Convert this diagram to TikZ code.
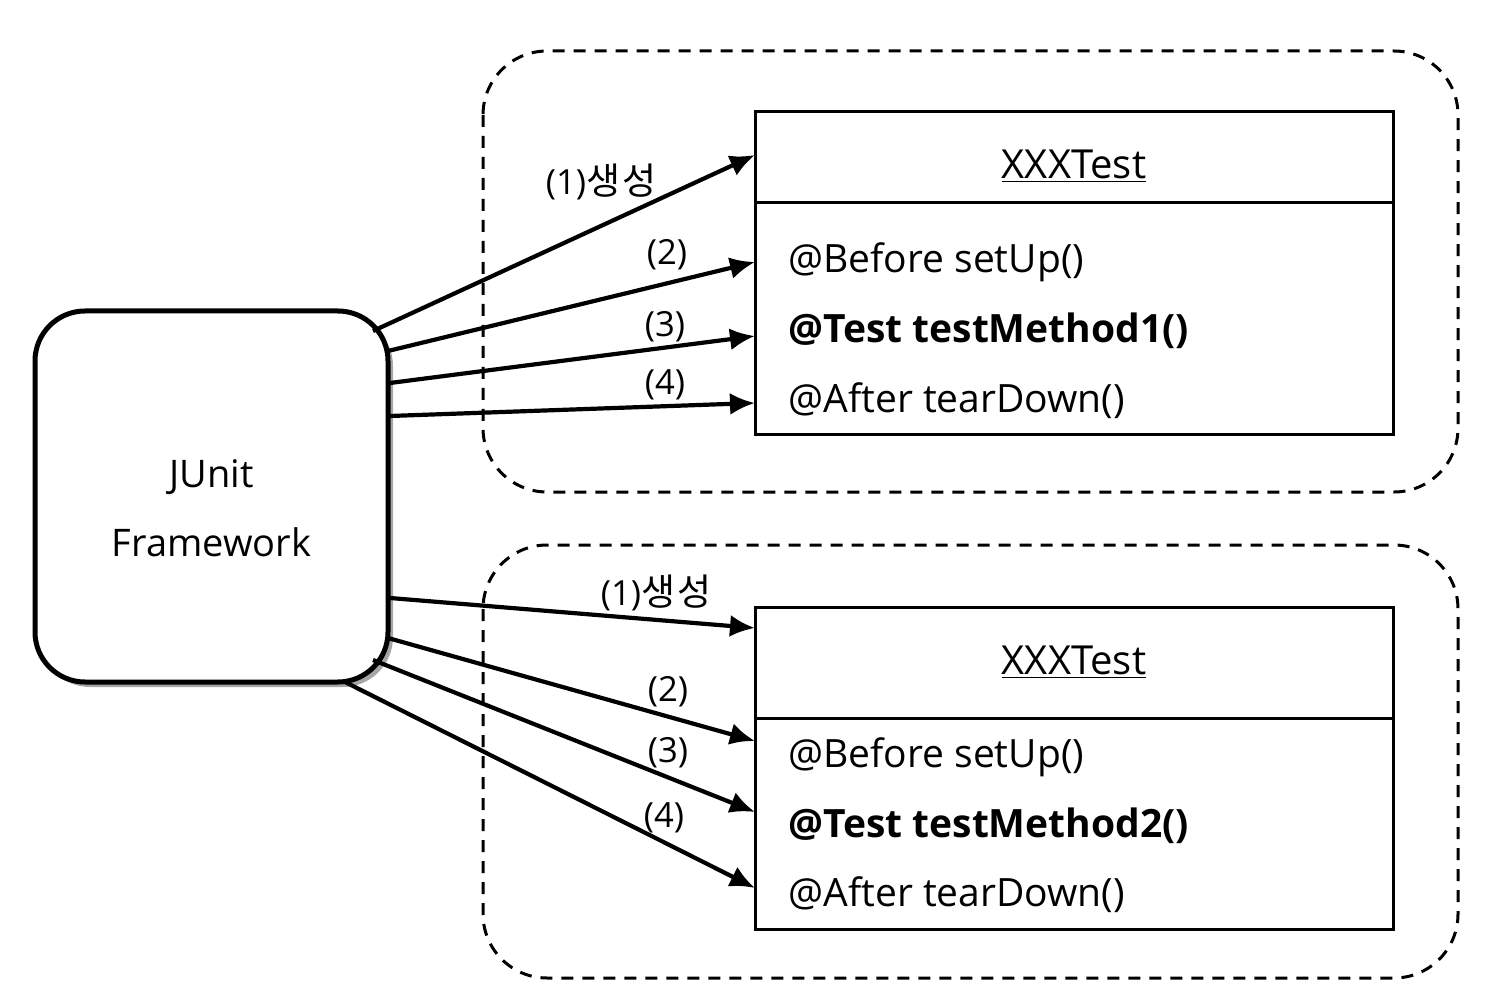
\documentclass[tikz,border=0pt]{standalone}
\usepackage{fontspec}
\setmainfont{Open Sans}
\newfontfamily\kr{Noto Sans CJK KR}
\usetikzlibrary{arrows.meta,shadows}
\begin{document}
\begin{tikzpicture}[x=0.5pt,y=-0.5pt,
  grp/.style={draw,line width=1.5pt,dash pattern=on 6pt off 4.5pt,rounded corners=32pt},
  junitbox/.style={draw,line width=2.5pt,rounded corners=25pt,fill=white,
    minimum width=176.5pt,minimum height=185.5pt,
    drop shadow={shadow xshift=2.5pt,shadow yshift=-2.5pt,fill=black!35,opacity=1}},
  jtxt/.style={align=center,font=\fontsize{19pt}{34.5pt}\selectfont,inner sep=0pt},
  clsbox/.style={draw,line width=1.5pt,minimum width=319pt,minimum height=161pt,inner sep=0pt},
  title/.style={font=\fontsize{20pt}{22pt}\selectfont,inner sep=0pt},
  meth/.style={anchor=west,font=\fontsize{19.5pt}{22pt}\selectfont,inner sep=0pt},
  lbl/.style={font=\fontsize{17.3pt}{20pt}\selectfont,inner sep=0pt},
  arr/.style={line width=2.1pt,-{Latex[length=12.5pt,width=11pt]}}
]
\useasboundingbox (0,0) rectangle (1495,1000);
% groups
\draw[grp] (483,51) rectangle (1458,492);
\draw[grp] (483,545) rectangle (1458,978);
% framework
\node[junitbox] (junit) at (211.5,496.5) {};
\node[jtxt] (jt) at (211.5,508) {JUnit\\Framework};
% class boxes
\node[clsbox] (cls1) at (1074,273) {};
\draw[line width=1.5pt] (cls1.west |- 0,203) -- (cls1.east |- 0,203);
\node[title] (t1) at (1074,166) {\underline{XXXTest}};
\node[meth] (m11) at (788,262) {@Before setUp()};
\node[meth] (m12) at (788,331) {\bfseries @Test testMethod1()};
\node[meth] (m13) at (788,401) {@After tearDown()};
\node[clsbox] (cls2) at (1074,768.5) {};
\draw[line width=1.5pt] (cls2.west |- 0,718) -- (cls2.east |- 0,718);
\node[title] (t2) at (1074,662) {\underline{XXXTest}};
\node[meth] (m21) at (788,757) {@Before setUp()};
\node[meth] (m22) at (788,826) {\bfseries @Test testMethod2()};
\node[meth] (m23) at (788,895) {@After tearDown()};
% connector end points
\coordinate (a1s) at (373,331); \coordinate (a1e) at (755,155);
\coordinate (a2s) at (388,351); \coordinate (a2e) at (755,262);
\coordinate (a3s) at (390,383); \coordinate (a3e) at (755,336);
\coordinate (a4s) at (390,416); \coordinate (a4e) at (755,403);
\coordinate (b1s) at (390,598); \coordinate (b1e) at (755,628);
\coordinate (b2s) at (388,638); \coordinate (b2e) at (755,741);
\coordinate (b3s) at (373,660); \coordinate (b3e) at (755,812);
\coordinate (b4s) at (345,682); \coordinate (b4e) at (755,888);
\draw[arr] (a1s) -- (a1e);
\draw[arr] (a2s) -- (a2e);
\draw[arr] (a3s) -- (a3e);
\draw[arr] (a4s) -- (a4e);
\draw[arr] (b1s) -- (b1e);
\draw[arr] (b2s) -- (b2e);
\draw[arr] (b3s) -- (b3e);
\draw[arr] (b4s) -- (b4e);
% labels
\node[lbl] (la1) at (601,182) {(1)\kr\fontsize{18.5pt}{20pt}\selectfont 생\kern1pt 성};
\node[lbl] (la2) at (667,255) {(2)};
\node[lbl] (la3) at (665,327) {(3)};
\node[lbl] (la4) at (665,385) {(4)};
\node[lbl] (lb1) at (656,593) {(1)\kr\fontsize{18.5pt}{20pt}\selectfont 생\kern1pt 성};
\node[lbl] (lb2) at (668,692) {(2)};
\node[lbl] (lb3) at (668,753) {(3)};
\node[lbl] (lb4) at (664,818) {(4)};
\end{tikzpicture}
\end{document}
